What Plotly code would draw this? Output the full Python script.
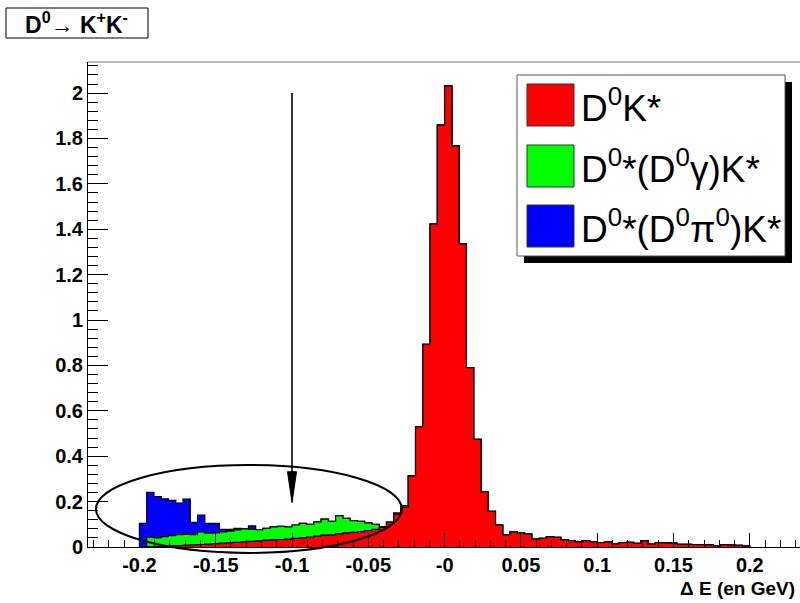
import numpy as np
import plotly.graph_objects as go

# ---------------- data ----------------
N_BINS = 84
X_LO, X_HI = -0.2, 0.2

# D0 K* (red) per-bin contents
red_vals = [0.0, 0.002, 0.003, 0.004, 0.005, 0.006, 0.008, 0.009, 0.011, 0.013,
            0.015, 0.017, 0.019, 0.021, 0.023, 0.025, 0.027, 0.030, 0.031, 0.033,
            0.035, 0.038, 0.040, 0.044, 0.048, 0.052, 0.053, 0.058, 0.062, 0.064,
            0.068, 0.072, 0.078, 0.086, 0.108, 0.145, 0.176, 0.313, 0.530, 0.893,
            1.423, 1.859, 2.032, 1.767, 1.335, 0.790, 0.474, 0.244, 0.157, 0.097,
            0.053, 0.067, 0.062, 0.057, 0.035, 0.038, 0.045, 0.042, 0.031, 0.028,
            0.023, 0.028, 0.023, 0.019, 0.023, 0.014, 0.019, 0.021, 0.016, 0.028,
            0.013, 0.019, 0.018, 0.017, 0.012, 0.012, 0.010, 0.010, 0.009, 0.006,
            0.010, 0.008, 0.007, 0.004]

# D0*(D0 gamma) K* (green) per-bin contents
green_vals = [0.0, 0.041, 0.037, 0.042, 0.045, 0.048, 0.048, 0.045, 0.055, 0.048,
              0.047, 0.049, 0.051, 0.054, 0.057, 0.053, 0.049, 0.052, 0.058, 0.058,
              0.054, 0.059, 0.064, 0.056, 0.063, 0.071, 0.060, 0.080, 0.064, 0.052,
              0.045, 0.034, 0.022, 0.004, 0.002, 0.004, 0.006] + [0.0] * 47

# D0*(D0 pi0) K* (blue) per-bin contents
blue_vals = [0.104, 0.198, 0.182, 0.166, 0.155, 0.139, 0.155, 0.055, 0.075, 0.043,
             0.042, 0.012, 0.008, 0.007, 0.0, 0.015, 0.0] + [0.0] * 67

names = ["D<sup>0</sup>K*",
         "D<sup>0</sup>*(D<sup>0</sup>γ)K*",
         "D<sup>0</sup>*(D<sup>0</sup>π<sup>0</sup>)K*"]
colors = ["#ff0000", "#00ff00", "#0000ff"]

x_tickvals = [-0.2, -0.15, -0.1, -0.05, 0.0, 0.05, 0.1, 0.15, 0.2]
x_ticktext = ["-0.2", "-0.15", "-0.1", "-0.05", "-0", "0.05", "0.1", "0.15", "0.2"]
y_tickvals = [0, 0.2, 0.4, 0.6, 0.8, 1.0, 1.2, 1.4, 1.6, 1.8, 2.0]
y_ticktext = ["0", "0.2", "0.4", "0.6", "0.8", "1", "1.2", "1.4", "1.6", "1.8", "2"]

# annotations (data units)
ARROW_X, ARROW_TOP, ARROW_TIP = -0.1, 2.0, 0.195
ELL_X0, ELL_X1, ELL_Y0, ELL_Y1 = -0.2285, -0.028, -0.026, 0.361

# ---------------- layout geometry ----------------
W, H = 800, 603
ML, MR, MT, MB = 88, 0, 62, 56
XR = [-0.2337, 0.2329]
YR = [0.0, 2.137]
PW, PH = W - ML - MR, H - MT - MB
FONT = "Liberation Sans, Arial, Helvetica, sans-serif"

edges = np.linspace(X_LO, X_HI, N_BINS + 1)
red = np.array(red_vals)
green_tot = red + np.array(green_vals)
blue_tot = green_tot + np.array(blue_vals)


def step_xy(vals):
    xs = [edges[0]] + list(edges[:-1]) + [edges[-1], edges[-1]]
    ys = [0.0] + list(vals) + [vals[-1], 0.0]
    return xs, ys


fig = go.Figure()
for vals, col, nm in [(blue_tot, colors[2], names[2]),
                      (green_tot, colors[1], names[1]),
                      (red, colors[0], names[0])]:
    xs, ys = step_xy(vals)
    fig.add_trace(go.Scatter(x=xs, y=ys, mode="lines", line_shape="hv",
                             line=dict(color="black", width=1.2),
                             fill="tozeroy", fillcolor=col, name=nm,
                             showlegend=False, hoverinfo="skip"))


def px2paper(px, py):
    return (px - ML) / PW, (H - MB - py) / PH


shapes = []
annots = []

# top frame line
shapes.append(dict(type="line", xref="paper", yref="paper", x0=0, x1=1, y0=1, y1=1,
                   line=dict(color="#777777", width=1)))


def xd(v):
    return (v - XR[0]) / (XR[1] - XR[0])


def yd(v):
    return (v - YR[0]) / (YR[1] - YR[0])


# ellipse (domain refs so it is not clipped below the axis)
shapes.append(dict(type="circle", xref="x domain", yref="y domain",
                   x0=xd(ELL_X0), x1=xd(ELL_X1), y0=yd(ELL_Y0), y1=yd(ELL_Y1),
                   line=dict(color="black", width=2)))

# arrow
head_len = 31 / PH * (YR[1] - YR[0])
head_hw = 4.5 / PW * (XR[1] - XR[0])
shapes.append(dict(type="line", xref="x", yref="y", x0=ARROW_X, x1=ARROW_X,
                   y0=ARROW_TOP, y1=ARROW_TIP + head_len * 0.5,
                   line=dict(color="black", width=1.6)))
shapes.append(dict(type="path", xref="x", yref="y",
                   path=f"M {ARROW_X - head_hw} {ARROW_TIP + head_len} L {ARROW_X + head_hw} {ARROW_TIP + head_len} L {ARROW_X} {ARROW_TIP} Z",
                   fillcolor="black", line=dict(color="black", width=1)))

# legend box with shadow
LX0, LY0, LX1, LY1 = 517, 75, 785, 256
SH = 7
a = px2paper(LX0 + SH, LY0 + SH); b = px2paper(LX1 + SH, LY1 + SH)
shapes.append(dict(type="rect", xref="paper", yref="paper", x0=a[0], y0=a[1], x1=b[0], y1=b[1],
                   fillcolor="black", line=dict(color="black", width=0)))
a = px2paper(LX0, LY0); b = px2paper(LX1, LY1)
shapes.append(dict(type="rect", xref="paper", yref="paper", x0=a[0], y0=a[1], x1=b[0], y1=b[1],
                   fillcolor="white", line=dict(color="#555555", width=1)))
row_centers = [105, 166, 226]
for (nm, col), rc in zip(zip(names, colors), row_centers):
    a = px2paper(527, rc - 21); b = px2paper(574, rc + 21)
    shapes.append(dict(type="rect", xref="paper", yref="paper", x0=a[0], y0=a[1], x1=b[0], y1=b[1],
                       fillcolor=col, line=dict(color="#333333", width=1)))
    p = px2paper(579, rc)
    annots.append(dict(xref="paper", yref="paper", x=p[0], y=p[1], xanchor="left", yanchor="middle",
                       text=nm, showarrow=False, font=dict(family=FONT, size=37, color="black")))

# title box
a = px2paper(6, 8); b = px2paper(148, 38)
shapes.append(dict(type="rect", xref="paper", yref="paper", x0=a[0], y0=a[1], x1=b[0], y1=b[1],
                   fillcolor="white", line=dict(color="black", width=1)))
p = px2paper(76, 23)
annots.append(dict(xref="paper", yref="paper", x=p[0], y=p[1], xanchor="center", yanchor="middle",
                   text="<b>D<sup>0</sup>→ K<sup>+</sup>K<sup>-</sup></b>", showarrow=False,
                   font=dict(family=FONT, size=23, color="black")))

# x-axis title
p = px2paper(797, 588)
annots.append(dict(xref="paper", yref="paper", x=p[0], y=p[1], xanchor="right", yanchor="middle",
                   text="<b>Δ E (en GeV)</b>", showarrow=False,
                   font=dict(family=FONT, size=19, color="black")))

fig.update_layout(
    width=W, height=H, margin=dict(l=ML, r=MR, t=MT, b=MB),
    paper_bgcolor="white", plot_bgcolor="white",
    shapes=shapes, annotations=annots, showlegend=False,
    font=dict(family=FONT, color="black"),
    xaxis=dict(range=XR, showgrid=False, zeroline=False, showline=True, linecolor="black",
               linewidth=1, ticks="inside", ticklen=14, tickcolor="black",
               tickvals=x_tickvals, ticktext=x_ticktext,
               tickfont=dict(family=FONT, size=20, color="black", weight="bold"),
               minor=dict(ticks="inside", ticklen=7, dtick=0.01, tick0=0, tickcolor="black",
                          showgrid=False)),
    yaxis=dict(range=YR, showgrid=False, zeroline=False, showline=True, linecolor="black",
               linewidth=1, ticks="inside", ticklen=20, tickcolor="black",
               tickvals=y_tickvals, ticktext=y_ticktext,
               tickfont=dict(family=FONT, size=20, color="black", weight="bold"),
               minor=dict(ticks="inside", ticklen=10, dtick=0.04, tick0=0, tickcolor="black",
                          showgrid=False)),
)

fig.write_html("out.html", config={"displayModeBar": False},
               post_script="document.body.style.margin='0px';document.body.style.padding='0px';document.body.style.overflow='hidden';")
